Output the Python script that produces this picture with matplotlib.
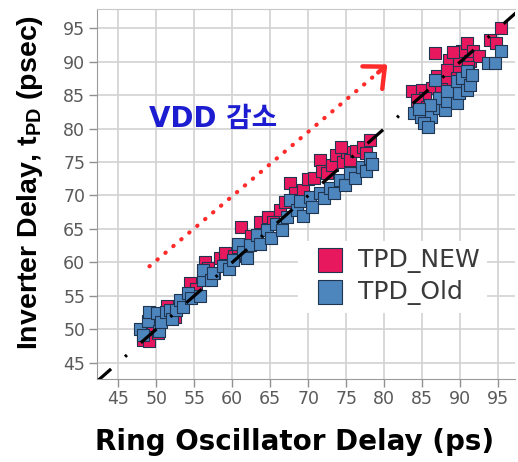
import matplotlib
matplotlib.use("Agg")
import matplotlib.pyplot as plt

plt.rcParams["font.family"] = ["DejaVu Sans", "Noto Sans CJK KR"]
plt.rcParams["mathtext.fontset"] = "custom"
plt.rcParams["mathtext.rm"] = "Liberation Sans:bold"
plt.rcParams["mathtext.bf"] = "Liberation Sans:bold"
plt.rcParams["mathtext.it"] = "Liberation Sans:bold"

# TPD_NEW (pink) points: ring oscillator delay vs inverter delay
new_x = [48.3, 49.1, 50.2, 49.6, 51.4, 52.5, 53.3, 54.4, 55.2, 56.4, 56.8, 57.6, 58.4, 59.0,
         60.2, 60.8, 61.2, 61.9, 62.4, 63.6, 64.7, 65.4, 66.3, 66.9, 67.6, 68.2, 69.3, 69.9,
         70.7, 71.5, 71.8, 72.4, 73.1, 73.7, 74.5, 75.1, 75.5, 76.3, 77.2, 78.1, 77.6, 74.3,
         83.7, 85.0, 86.3, 85.4, 84.3, 85.6, 86.9, 88.2, 86.7, 88.5, 88.2, 89.8, 89.5, 89.8,
         90.2, 91.3, 90.9, 91.7, 92.5, 93.9, 94.7, 95.4, 87.5, 91.0, 89.0]
new_y = [48.4, 48.2, 49.4, 50.6, 53.4, 51.8, 54.2, 56.9, 56.0, 60.1, 59.1, 58.4, 60.6, 61.4,
         61.0, 62.3, 65.3, 62.3, 64.0, 66.1, 66.8, 66.0, 67.8, 69.0, 71.8, 70.3, 70.8, 72.4,
         72.6, 75.3, 73.6, 73.3, 74.6, 76.0, 75.0, 76.5, 75.3, 76.6, 77.3, 78.3, 76.4, 77.3,
         85.6, 85.8, 86.1, 84.6, 84.3, 83.3, 87.8, 87.3, 91.3, 90.3, 88.8, 88.8, 87.6, 90.3,
         91.6, 90.1, 92.8, 91.6, 90.8, 93.3, 92.8, 95.1, 86.0, 89.2, 91.5]

# TPD_Old (blue) points
old_x = [47.8, 48.2, 48.9, 49.1, 50.1, 50.4, 50.6, 51.3, 51.8, 52.0, 52.6, 53.1, 53.5, 54.2,
         54.6, 55.7, 56.2, 56.1, 57.2, 57.5, 58.8, 59.6, 60.1, 60.8, 61.4, 61.9, 62.3, 63.2,
         63.7, 64.5, 65.1, 65.8, 66.5, 67.2, 67.6, 68.5, 68.9, 69.3, 70.2, 70.5, 71.5, 72.0,
         72.9, 73.4, 74.2, 74.8, 75.5, 76.2, 77.0, 77.6, 78.1, 78.4,
         83.9, 84.8, 86.1, 85.2, 85.8, 87.2, 88.0, 87.2, 88.2, 89.5, 88.2, 89.8, 86.7, 89.5,
         90.2, 90.9, 91.3, 90.9, 91.5, 93.7, 94.5, 95.4, 86.0, 84.5]
old_y = [50.1, 49.2, 51.2, 52.6, 52.4, 49.8, 51.0, 52.6, 52.9, 51.5, 52.8, 54.4, 53.3, 55.4,
         54.6, 54.9, 57.4, 58.8, 57.3, 58.4, 59.4, 59.0, 60.4, 62.8, 61.6, 60.6, 62.6, 64.1,
         62.8, 64.8, 63.7, 65.8, 64.9, 66.8, 69.3, 67.8, 69.1, 67.0, 69.8, 68.3, 70.3, 69.6,
         71.1, 70.4, 72.3, 71.6, 73.3, 72.6, 74.3, 73.6, 75.6, 74.7,
         82.3, 81.8, 81.8, 80.8, 80.3, 83.1, 82.8, 84.6, 84.1, 83.8, 85.6, 85.3, 87.3, 87.1,
         87.6, 85.8, 86.6, 88.6, 88.0, 89.8, 89.8, 91.6, 83.5, 83.0]

ticks = [45, 50, 55, 60, 65, 70, 75, 80, 85, 90, 95]
diag = [42, 98]                      # y = x reference line
arrow_start = (49.1, 59.4)
arrow_end = (79.2, 88.4)
arrow_tip = (80.4, 89.6)

pink = "#e8185e"
blue = "#4d85bd"
edge = "#1f3550"
grid_gray = "#d2d2d2"
tick_gray = "#5a5a5a"

fig = plt.figure(figsize=(5.18, 4.62), dpi=100)
ax = fig.add_axes([0.1873, 0.1797, 0.807, 0.8009])

ax.scatter(new_x, new_y, marker="s", s=80, color=pink, edgecolors=edge, linewidths=0.8,
           label="TPD_NEW", zorder=3)
ax.scatter(old_x, old_y, marker="s", s=80, color=blue, edgecolors=edge, linewidths=0.8,
           label="TPD_Old", zorder=3)

ax.plot(diag, diag, color="black", lw=2.3, ls=(0, (6.5, 5.8, 0.8, 5.8)), zorder=5)

# dotted red arrow with a solid open head
ax.plot([arrow_start[0], arrow_end[0]], [arrow_start[1], arrow_end[1]], color="#ff2a2a",
        lw=3, ls=(0, (0.1, 2.4)), dash_capstyle="round", zorder=4)
ax.annotate("", xy=arrow_tip, xytext=arrow_end,
            arrowprops=dict(arrowstyle="->,head_length=0.5,head_width=0.45", color="#ff2a2a",
                            lw=3.2, mutation_scale=24, shrinkA=0, shrinkB=0), zorder=4)

ax.text(49.1, 80.2, "VDD 감소", color="#1c1cd0", fontsize=20, fontweight="bold",
        family=["DejaVu Sans", "Noto Sans CJK KR"], va="baseline", ha="left")

ax.set_xlim(42.2, 97.2)
ax.set_ylim(42.55, 97.9)
ax.set_xticks(ticks)
ax.set_yticks(ticks)
ax.grid(True, color=grid_gray, lw=1.2, zorder=0)
ax.set_axisbelow(True)
ax.tick_params(axis="both", colors="#909090", labelcolor=tick_gray, labelsize=12.5,
               length=5.5, width=1, direction="out")
ax.tick_params(axis="y", pad=3)
ax.tick_params(axis="x", pad=2.5)
for side in ["left", "bottom"]:
    ax.spines[side].set_color("#9a9a9a")
ax.spines["top"].set_color("#c8c8c8")
ax.spines["right"].set_visible(False)

leg = ax.legend(loc="upper left", bbox_to_anchor=(0.45, 0.408), fontsize=18,
                markerscale=1.9, scatterpoints=1, handletextpad=0.12, labelspacing=0.28,
                borderpad=0.3, frameon=True, fancybox=False)
leg.get_frame().set_edgecolor("none")
leg.get_frame().set_facecolor("white")
leg.get_frame().set_alpha(1)
for t in leg.get_texts():
    t.set_color("#3a3a3a")

fig.text(0.058, 0.604, r"Inverter Delay, t$_{\mathbf{PD}}$ (psec)", rotation=90,
         fontsize=20.5, fontweight="bold", family="Liberation Sans", ha="center", va="center")
fig.text(0.569, 0.043, "Ring Oscillator Delay (ps)", fontsize=20, fontweight="bold",
         ha="center", va="center")

fig.savefig("out.png", dpi=100)
